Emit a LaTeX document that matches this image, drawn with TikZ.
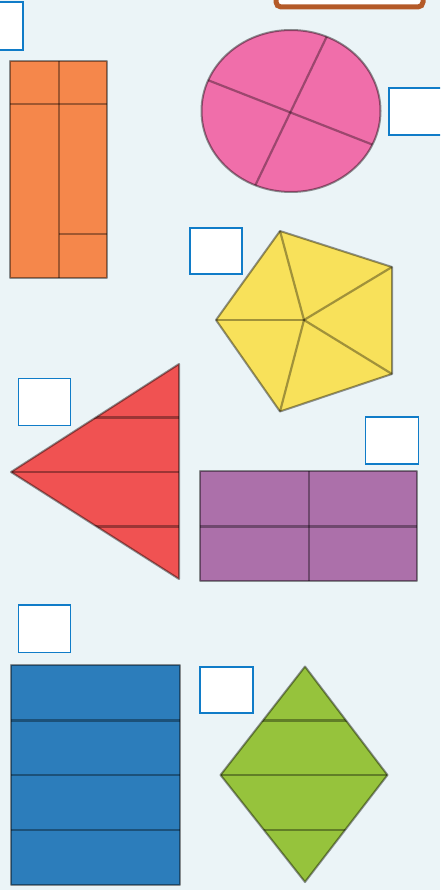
\documentclass[tikz,border=0pt]{standalone}
\usetikzlibrary{calc}
\definecolor{bg}{RGB}{235,244,247}
\definecolor{boxblue}{RGB}{16,124,200}
\definecolor{brownc}{RGB}{180,90,40}
\definecolor{orangec}{RGB}{245,135,75}
\definecolor{pinkc}{RGB}{240,110,170}
\definecolor{yellowc}{RGB}{248,225,90}
\definecolor{redc}{RGB}{240,82,82}
\definecolor{purplec}{RGB}{172,112,170}
\definecolor{bluec}{RGB}{44,125,187}
\definecolor{greenc}{RGB}{150,195,60}
\tikzset{
  ansbox/.style={draw=boxblue, fill=white, line width=1.6pt, rectangle, inner sep=0pt},
  shapeedge/.style={draw=black, draw opacity=0.42, line width=2pt, line join=round},
  divline/.style={draw=black, draw opacity=0.35, line width=2.2pt}
}
\begin{document}
\begin{tikzpicture}[x=1pt,y=-1pt]
\useasboundingbox (0,0) rectangle (440,890);
\clip (0,0) rectangle (440,890);
\fill[bg] (0,0) rectangle (440,890);

% brown frame at top
\draw[brownc, line width=5pt, fill=white, rounded corners=5pt] (276,-20) rectangle (423,7);

% answer boxes
\node[ansbox, minimum width=30pt, minimum height=48pt] (b0) at (8,26) {};
\node[ansbox, minimum width=56pt, minimum height=47pt] (b1) at (417,111.5) {};
\node[ansbox, minimum width=52pt, minimum height=46.5pt] (b2) at (216,251) {};
\node[ansbox, minimum width=52pt, minimum height=47pt] (b3) at (44.5,402) {};
\node[ansbox, minimum width=53pt, minimum height=47pt] (b4) at (391.8,440.3) {};
\node[ansbox, minimum width=52pt, minimum height=47.5pt] (b5) at (44.5,628.8) {};
\node[ansbox, minimum width=53pt, minimum height=46.5pt] (b6) at (226.7,690) {};

% orange rectangle
\fill[orangec] (10,61) rectangle (107,278);
\draw[divline] (59,61) -- (59,278);
\draw[divline] (10,104) -- (107,104);
\draw[divline] (59,234) -- (107,234);
\draw[shapeedge] (10,61) rectangle (107,278);

% pink circle
\fill[pinkc] (291,111) ellipse [x radius=89.5, y radius=81];
\begin{scope}
\clip (291,111) ellipse [x radius=89.5, y radius=81];
\draw[divline] (327.5,35) -- (254.5,187);
\draw[divline] (205,79) -- (376,146);
\end{scope}
\draw[shapeedge] (291,111) ellipse [x radius=89.5, y radius=81];

% yellow pentagon
\coordinate (p1) at (280,231);
\coordinate (p2) at (392,267);
\coordinate (p3) at (392,374);
\coordinate (p4) at (280,411.5);
\coordinate (p5) at (216,320);
\coordinate (pc) at (304,320);
\fill[yellowc] (p1) -- (p2) -- (p3) -- (p4) -- (p5) -- cycle;
\foreach \p in {p1,p2,p3,p4,p5} \draw[divline] (pc) -- (\p);
\draw[shapeedge] (p1) -- (p2) -- (p3) -- (p4) -- (p5) -- cycle;

% red triangle
\coordinate (t1) at (11,472);
\coordinate (t2) at (179,364);
\coordinate (t3) at (179,579);
\fill[redc] (t1) -- (t2) -- (t3) -- cycle;
\begin{scope}
\clip (t1) -- (t2) -- (t3) -- cycle;
\draw[divline] (0,417.5) -- (179,417.5);
\draw[divline] (0,472) -- (179,472);
\draw[divline] (0,526.5) -- (179,526.5);
\end{scope}
\draw[shapeedge] (t1) -- (t2) -- (t3) -- cycle;

% purple rectangle
\fill[purplec] (199.5,471) rectangle (417,580.5);
\draw[divline] (309,471) -- (309,580.5);
\draw[divline] (199.5,526.5) -- (417,526.5);
\draw[shapeedge] (199.5,471) rectangle (417,580.5);

% blue rectangle
\fill[bluec] (11,665) rectangle (180,885);
\draw[divline] (11,720.5) -- (180,720.5);
\draw[divline] (11,775) -- (180,775);
\draw[divline] (11,830) -- (180,830);
\draw[shapeedge] (11,665) rectangle (180,885);

% green diamond
\coordinate (d1) at (305,666.5);
\coordinate (d2) at (387.5,775);
\coordinate (d3) at (305,882);
\coordinate (d4) at (220.5,775);
\fill[greenc] (d1) -- (d2) -- (d3) -- (d4) -- cycle;
\begin{scope}
\clip (d1) -- (d2) -- (d3) -- (d4) -- cycle;
\draw[divline] (200,720.5) -- (400,720.5);
\draw[divline] (200,775) -- (400,775);
\draw[divline] (200,830) -- (400,830);
\end{scope}
\draw[shapeedge] (d1) -- (d2) -- (d3) -- (d4) -- cycle;
\end{tikzpicture}
\end{document}
